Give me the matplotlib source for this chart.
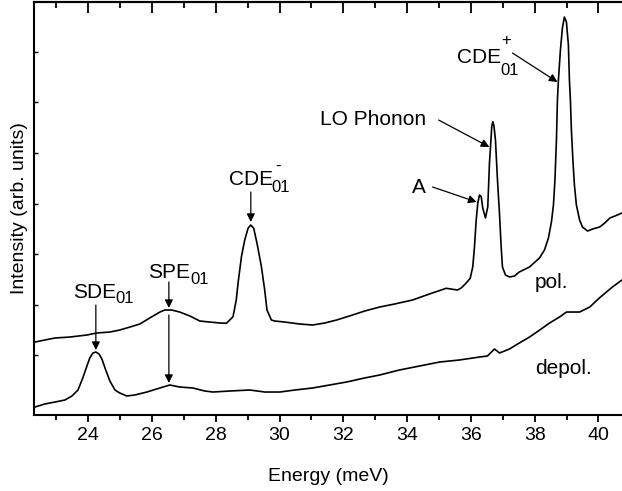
import numpy as np
import matplotlib
matplotlib.use("Agg")
import matplotlib.pyplot as plt
from matplotlib.ticker import MultipleLocator

# ------------------------------------------------------------
# Spectra (energy in meV, intensity arb.)
# ------------------------------------------------------------
pol_energy = [22.33, 22.64, 22.96, 23.43, 23.96, 24.27, 24.68, 24.99, 25.31, 25.62,
              25.93, 26.25, 26.40, 26.62, 26.87, 27.19, 27.50, 27.81, 28.13, 28.336,
              28.542, 28.643, 28.699, 28.806, 28.909, 29.013, 29.097, 29.191, 29.294, 29.432,
              29.535, 29.607, 29.745, 29.85, 30.16, 30.63, 31.04, 31.42, 31.79, 32.29,
              32.67, 33.14, 33.61, 34.17, 34.70, 35.228, 35.582, 35.698, 35.855, 35.980,
              36.061, 36.114, 36.168, 36.218, 36.271, 36.325, 36.375, 36.459, 36.531, 36.584,
              36.616, 36.656, 36.688, 36.725, 36.772, 36.835, 36.897, 36.951, 36.991, 37.085,
              37.21, 37.37, 37.52, 37.84, 38.152, 38.308, 38.433, 38.527, 38.590, 38.637,
              38.684, 38.715, 38.746, 38.809, 38.871, 38.934, 38.997, 39.059, 39.091, 39.122,
              39.153, 39.200, 39.248, 39.310, 39.41, 39.50, 39.66, 39.82, 40.04, 40.20,
              40.36, 40.52, 40.74]
pol_intensity = [1.257, 1.297, 1.337, 1.356, 1.396, 1.436, 1.455, 1.495, 1.554, 1.614,
                 1.733, 1.851, 1.891, 1.891, 1.851, 1.772, 1.673, 1.653, 1.634, 1.628,
                 1.758, 2.089, 2.420, 2.947, 3.277, 3.509, 3.574, 3.509, 3.212, 2.749,
                 2.287, 1.891, 1.693, 1.673, 1.653, 1.614, 1.594, 1.634, 1.693, 1.792,
                 1.871, 1.950, 2.010, 2.089, 2.208, 2.321, 2.287, 2.327, 2.426, 2.519,
                 2.749, 3.145, 3.673, 4.010, 4.168, 4.135, 3.905, 3.713, 3.937, 4.802,
                 5.119, 5.521, 5.620, 5.535, 5.257, 4.465, 3.812, 3.139, 2.743, 2.584,
                 2.545, 2.564, 2.644, 2.743, 2.921, 3.079, 3.317, 3.634, 3.970, 4.465,
                 5.257, 6.050, 6.446, 7.040, 7.475, 7.693, 7.594, 7.139, 6.446, 6.050,
                 5.455, 4.861, 4.366, 3.970, 3.673, 3.535, 3.455, 3.495, 3.535, 3.614,
                 3.713, 3.752, 3.812]

depol_energy = [22.33, 22.64, 22.96, 23.27, 23.49, 23.68, 23.83, 23.96, 24.05, 24.15,
                24.24, 24.34, 24.43, 24.55, 24.68, 24.84, 24.99, 25.21, 25.46, 25.84,
                26.25, 26.56, 26.87, 27.28, 27.66, 27.91, 28.44, 29.07, 29.54, 30.01,
                30.48, 31.04, 31.57, 32.10, 32.67, 33.14, 33.76, 34.39, 35.02, 35.64,
                36.27, 36.52, 36.74, 36.90, 37.21, 37.52, 37.84, 38.16, 38.47, 38.78,
                39.00, 39.41, 39.73, 40.03, 40.44, 40.74]
depol_intensity = [-0.030, 0.030, 0.069, 0.109, 0.188, 0.307, 0.545, 0.782, 0.941, 1.040,
                   1.059, 1.020, 0.921, 0.703, 0.485, 0.307, 0.248, 0.188, 0.208, 0.267,
                   0.347, 0.406, 0.366, 0.347, 0.287, 0.267, 0.287, 0.307, 0.267, 0.267,
                   0.307, 0.347, 0.406, 0.465, 0.545, 0.604, 0.703, 0.782, 0.861, 0.901,
                   0.960, 0.980, 1.119, 1.040, 1.119, 1.238, 1.356, 1.495, 1.634, 1.752,
                   1.851, 1.851, 1.950, 2.129, 2.347, 2.485]

# arrows: (tail E, tail I, tip E, tip I)
arrows = [
    (24.24, 1.990, 24.24, 1.099),   # SDE01
    (26.53, 2.446, 26.53, 1.931),   # SPE01 -> pol
    (26.53, 1.792, 26.53, 0.446),   # SPE01 -> depol
    (29.10, 4.228, 29.10, 3.634),   # CDE-01
    (34.80, 4.327, 36.18, 4.030),   # A
    (34.99, 5.653, 36.58, 5.119),   # LO phonon
    (37.305, 6.980, 38.715, 6.406), # CDE+01
]

# peak labels: (text, E, I) for main text, sub and superscript parts
main_labels = [("SDE", 23.52, 2.129), ("SPE", 25.87, 2.525), ("CDE", 28.41, 4.366),
               ("A", 34.14, 4.208), ("CDE", 35.58, 6.782),
               ("pol.", 38.0, 2.327), ("depol.", 38.0, 0.624)]
sub_labels = [("01", 24.86, 2.030), ("01", 27.21, 2.406), ("01", 29.76, 4.228),
              ("01", 36.93, 6.545)]
sup_labels = [("-", 29.86, 4.644), ("+", 36.96, 7.139)]

plt.rcParams["font.family"] = ["Liberation Sans", "DejaVu Sans"]

fig = plt.figure(figsize=(6.22, 4.91), dpi=100)
ax = fig.add_axes([34.3 / 622, 1 - 415 / 491, 1 - 34.3 / 622, (415 - 1.7) / 491])

ax.plot(pol_energy, pol_intensity, color="black", lw=1.2)
ax.plot(depol_energy, depol_intensity, color="black", lw=1.2)

for x0, y0, x1, y1 in arrows:
    ax.annotate("", xy=(x1, y1), xytext=(x0, y0),
                arrowprops=dict(arrowstyle="-|>", color="black", lw=0.9,
                                mutation_scale=12, shrinkA=0, shrinkB=0))

fs = 15
for txt, x, y in main_labels:
    ax.text(x, y, txt, fontsize=fs, ha="left", va="baseline")
for txt, x, y in sub_labels + sup_labels:
    ax.text(x, y, txt, fontsize=12, ha="left", va="baseline")
ax.text(34.61, 5.554, "LO Phonon", fontsize=fs, ha="right", va="baseline")

ax.set_xlim(22.31, 40.74)
ax.set_ylim(-0.188, 7.996)
ax.xaxis.set_major_locator(MultipleLocator(2))
ax.xaxis.set_minor_locator(MultipleLocator(1))
ax.set_yticks(np.arange(1, 8))
ax.set_yticklabels([])

ax.tick_params(axis="x", which="major", direction="out", length=5, width=1.3,
               labelsize=14, pad=4)
ax.tick_params(axis="x", which="minor", direction="out", length=3.5, width=1.3)
ax.tick_params(axis="y", which="major", direction="in", length=3, width=1.0)

top = ax.secondary_xaxis("top")
top.xaxis.set_major_locator(MultipleLocator(2))
top.xaxis.set_minor_locator(MultipleLocator(1))
top.tick_params(which="major", direction="in", length=8, width=1.3, labeltop=False)
top.tick_params(which="minor", direction="in", length=4, width=1.3)
top.spines["top"].set_linewidth(1.5)

ax.spines["right"].set_visible(False)
for s in ("left", "bottom", "top"):
    ax.spines[s].set_linewidth(1.5)

ax.set_xlabel("Energy (meV)", fontsize=14, labelpad=17)
ax.set_ylabel("Intensity (arb. units)", fontsize=14, labelpad=1)

fig.savefig("out.png", dpi=100)
